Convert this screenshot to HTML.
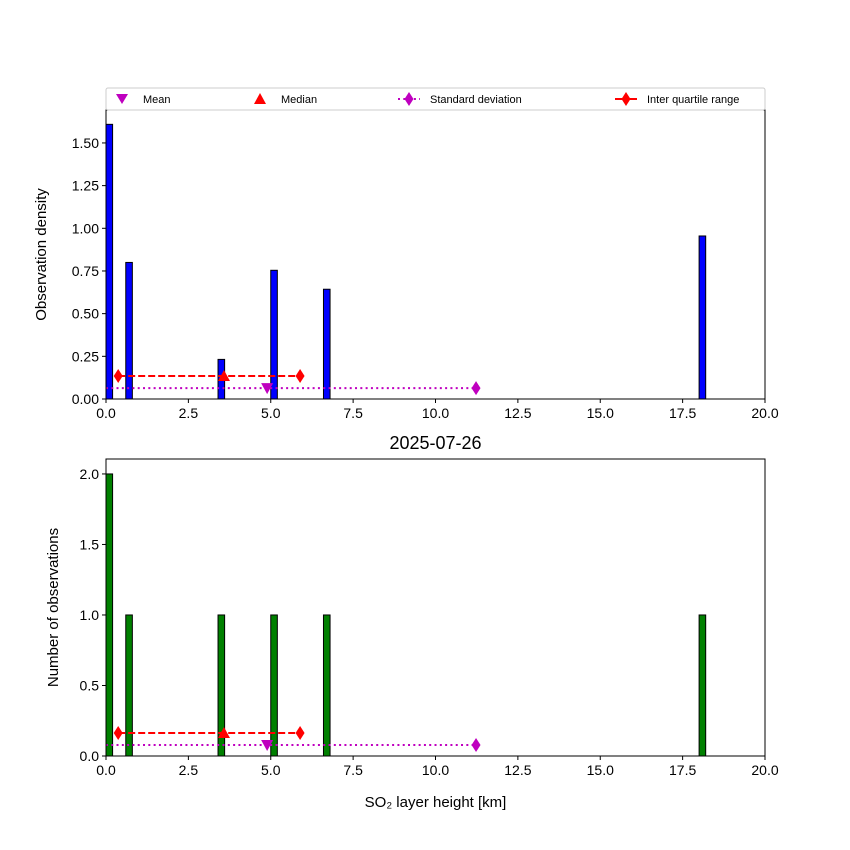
<!DOCTYPE html>
<html><head><meta charset="utf-8"><style>
html,body{margin:0;padding:0;background:#fff;}
svg{display:block;font-family:"Liberation Sans","DejaVu Sans",sans-serif;}
</style></head><body>
<svg id="c" width="850" height="850" xmlns="http://www.w3.org/2000/svg"></svg>
<script>
const binStarts=[0,0.6,3.4,5.0,6.6,18.0];
const binWidth=0.2;
const densityValues=[1.609,0.80,0.232,0.754,0.643,0.955];
const countValues=[2,1,1,1,1,1];
const meanVal=4.89, medianVal=3.58, q1Val=0.37, q3Val=5.89, stdHigh=11.23, stdLow=-1.45;
const xTicks=[0,2.5,5,7.5,10,12.5,15,17.5,20];
const xTickLabels=["0.0","2.5","5.0","7.5","10.0","12.5","15.0","17.5","20.0"];
const topYTicks=[0,0.25,0.5,0.75,1.0,1.25,1.5];
const topYLabels=["0.00","0.25","0.50","0.75","1.00","1.25","1.50"];
const botYTicks=[0,0.5,1.0,1.5,2.0];
const botYLabels=["0.0","0.5","1.0","1.5","2.0"];
const topStatY=[0.135,0.064];
const botStatY=[0.163,0.078];

const NS="http://www.w3.org/2000/svg";
const svg=document.getElementById('c');
function el(t,a,p){const e=document.createElementNS(NS,t);for(const k in a)e.setAttribute(k,a[k]);(p||svg).appendChild(e);return e;}
const X0=106,X1=765;
const xs=v=>X0+(v-0)/(20-0)*(X1-X0);

function panel(top,bot,ymax,yTicks,yLabels,vals,color,statY,ylabel,name){
  const g=el('g',{});
  
  
  const ys=v=>bot-v/ymax*(bot-top);
  const cp='clip-'+name;
  const d=el('clipPath',{id:cp},g);el('rect',{x:X0,y:top,width:X1-X0,height:bot-top},d);
  const plot=el('g',{'clip-path':'url(#'+cp+')'},g);
  binStarts.forEach((s,i)=>{
    const r=el('rect',{x:xs(s),y:ys(vals[i]),width:xs(s+binWidth)-xs(s),height:bot-ys(vals[i]),fill:color,stroke:'#000','stroke-width':1},plot);
    
    
  });
  // std line
  const sl=el('line',{x1:xs(stdLow),x2:xs(stdHigh),y1:ys(statY[1]),y2:ys(statY[1]),stroke:'#bf00bf','stroke-width':2,'stroke-dasharray':'2,3.3'},plot);
  
  
  const dia=(x,y,c)=>el('path',{d:`M${x},${y-7} L${x+4.5},${y} L${x},${y+7} L${x-4.5},${y} Z`,fill:c},plot);
  dia(xs(stdLow),ys(statY[1]),'#bf00bf');dia(xs(stdHigh),ys(statY[1]),'#bf00bf');
  // IQR
  const il=el('line',{x1:xs(q1Val),x2:xs(q3Val),y1:ys(statY[0]),y2:ys(statY[0]),stroke:'#ff0000','stroke-width':2,'stroke-dasharray':'7,3'},plot);
  
  
  dia(xs(q1Val),ys(statY[0]),'#ff0000');dia(xs(q3Val),ys(statY[0]),'#ff0000');
  let mx=xs(medianVal),my=ys(statY[0]);
  const med=el('path',{d:`M${mx},${my-6} L${mx+6},${my+5} L${mx-6},${my+5} Z`,fill:'#ff0000'},plot);
  
  
  mx=xs(meanVal);my=ys(statY[1]);
  const mn=el('path',{d:`M${mx},${my+6} L${mx+6},${my-5} L${mx-6},${my-5} Z`,fill:'#bf00bf'},plot);
  
  
  el('rect',{x:X0,y:top,width:X1-X0,height:bot-top,fill:'none',stroke:'#000','stroke-width':1},g);
  xTicks.forEach((t,i)=>{
    el('line',{x1:xs(t),x2:xs(t),y1:bot,y2:bot+4,stroke:'#000'},g);
    const tx=el('text',{x:xs(t),y:bot+19,'text-anchor':'middle','font-size':14},g);tx.textContent=xTickLabels[i];
    
    
  });
  yTicks.forEach((t,i)=>{
    el('line',{x1:X0-4,x2:X0,y1:ys(t),y2:ys(t),stroke:'#000'},g);
    const tx=el('text',{x:X0-7,y:ys(t)+5,'text-anchor':'end','font-size':14},g);tx.textContent=yLabels[i];
    
    
  });
  const yl=el('text',{transform:`translate(${name==='top-panel'?46:58},${(top+bot)/2}) rotate(-90)`,'text-anchor':'middle','font-size':15},g);
  yl.textContent=ylabel;
  
  
}
panel(110,399,1.693,topYTicks,topYLabels,densityValues,'#0000ff',topStatY,'Observation density','top-panel');
panel(459,756,2.106,botYTicks,botYLabels,countValues,'#008000',botStatY,'Number of observations','bottom-panel');

const tt=el('text',{x:435.5,y:449,'text-anchor':'middle','font-size':18});
tt.textContent='2025-07-26';


const xl=el('text',{x:435.5,y:807,'text-anchor':'middle','font-size':15});
xl.textContent='SO₂ layer height [km]';



// legend
const lg=el('g',{});


el('rect',{x:106,y:88,width:659,height:22,rx:2,fill:'#fff',stroke:'#ccc'},lg);
const ly=99;
el('path',{d:`M116,${ly-5} L128,${ly-5} L122,${ly+5} Z`,fill:'#bf00bf'},lg);
el('path',{d:`M260,${ly-6} L266,${ly+5} L254,${ly+5} Z`,fill:'#ff0000'},lg);
el('line',{x1:398,x2:420,y1:ly,y2:ly,stroke:'#bf00bf','stroke-width':2,'stroke-dasharray':'2,3.3'},lg);
el('path',{d:`M409,${ly-7} L413.5,${ly} L409,${ly+7} L404.5,${ly} Z`,fill:'#bf00bf'},lg);
el('line',{x1:615,x2:637,y1:ly,y2:ly,stroke:'#ff0000','stroke-width':2},lg);
el('path',{d:`M626,${ly-7} L630.5,${ly} L626,${ly+7} L621.5,${ly} Z`,fill:'#ff0000'},lg);
[[143,'Mean'],[281,'Median'],[430,'Standard deviation'],[647,'Inter quartile range']].forEach(([x,t])=>{
  const e=el('text',{x:x,y:ly+4,'font-size':11},lg);e.textContent=t;
  
  
});
</script>
</body></html>
